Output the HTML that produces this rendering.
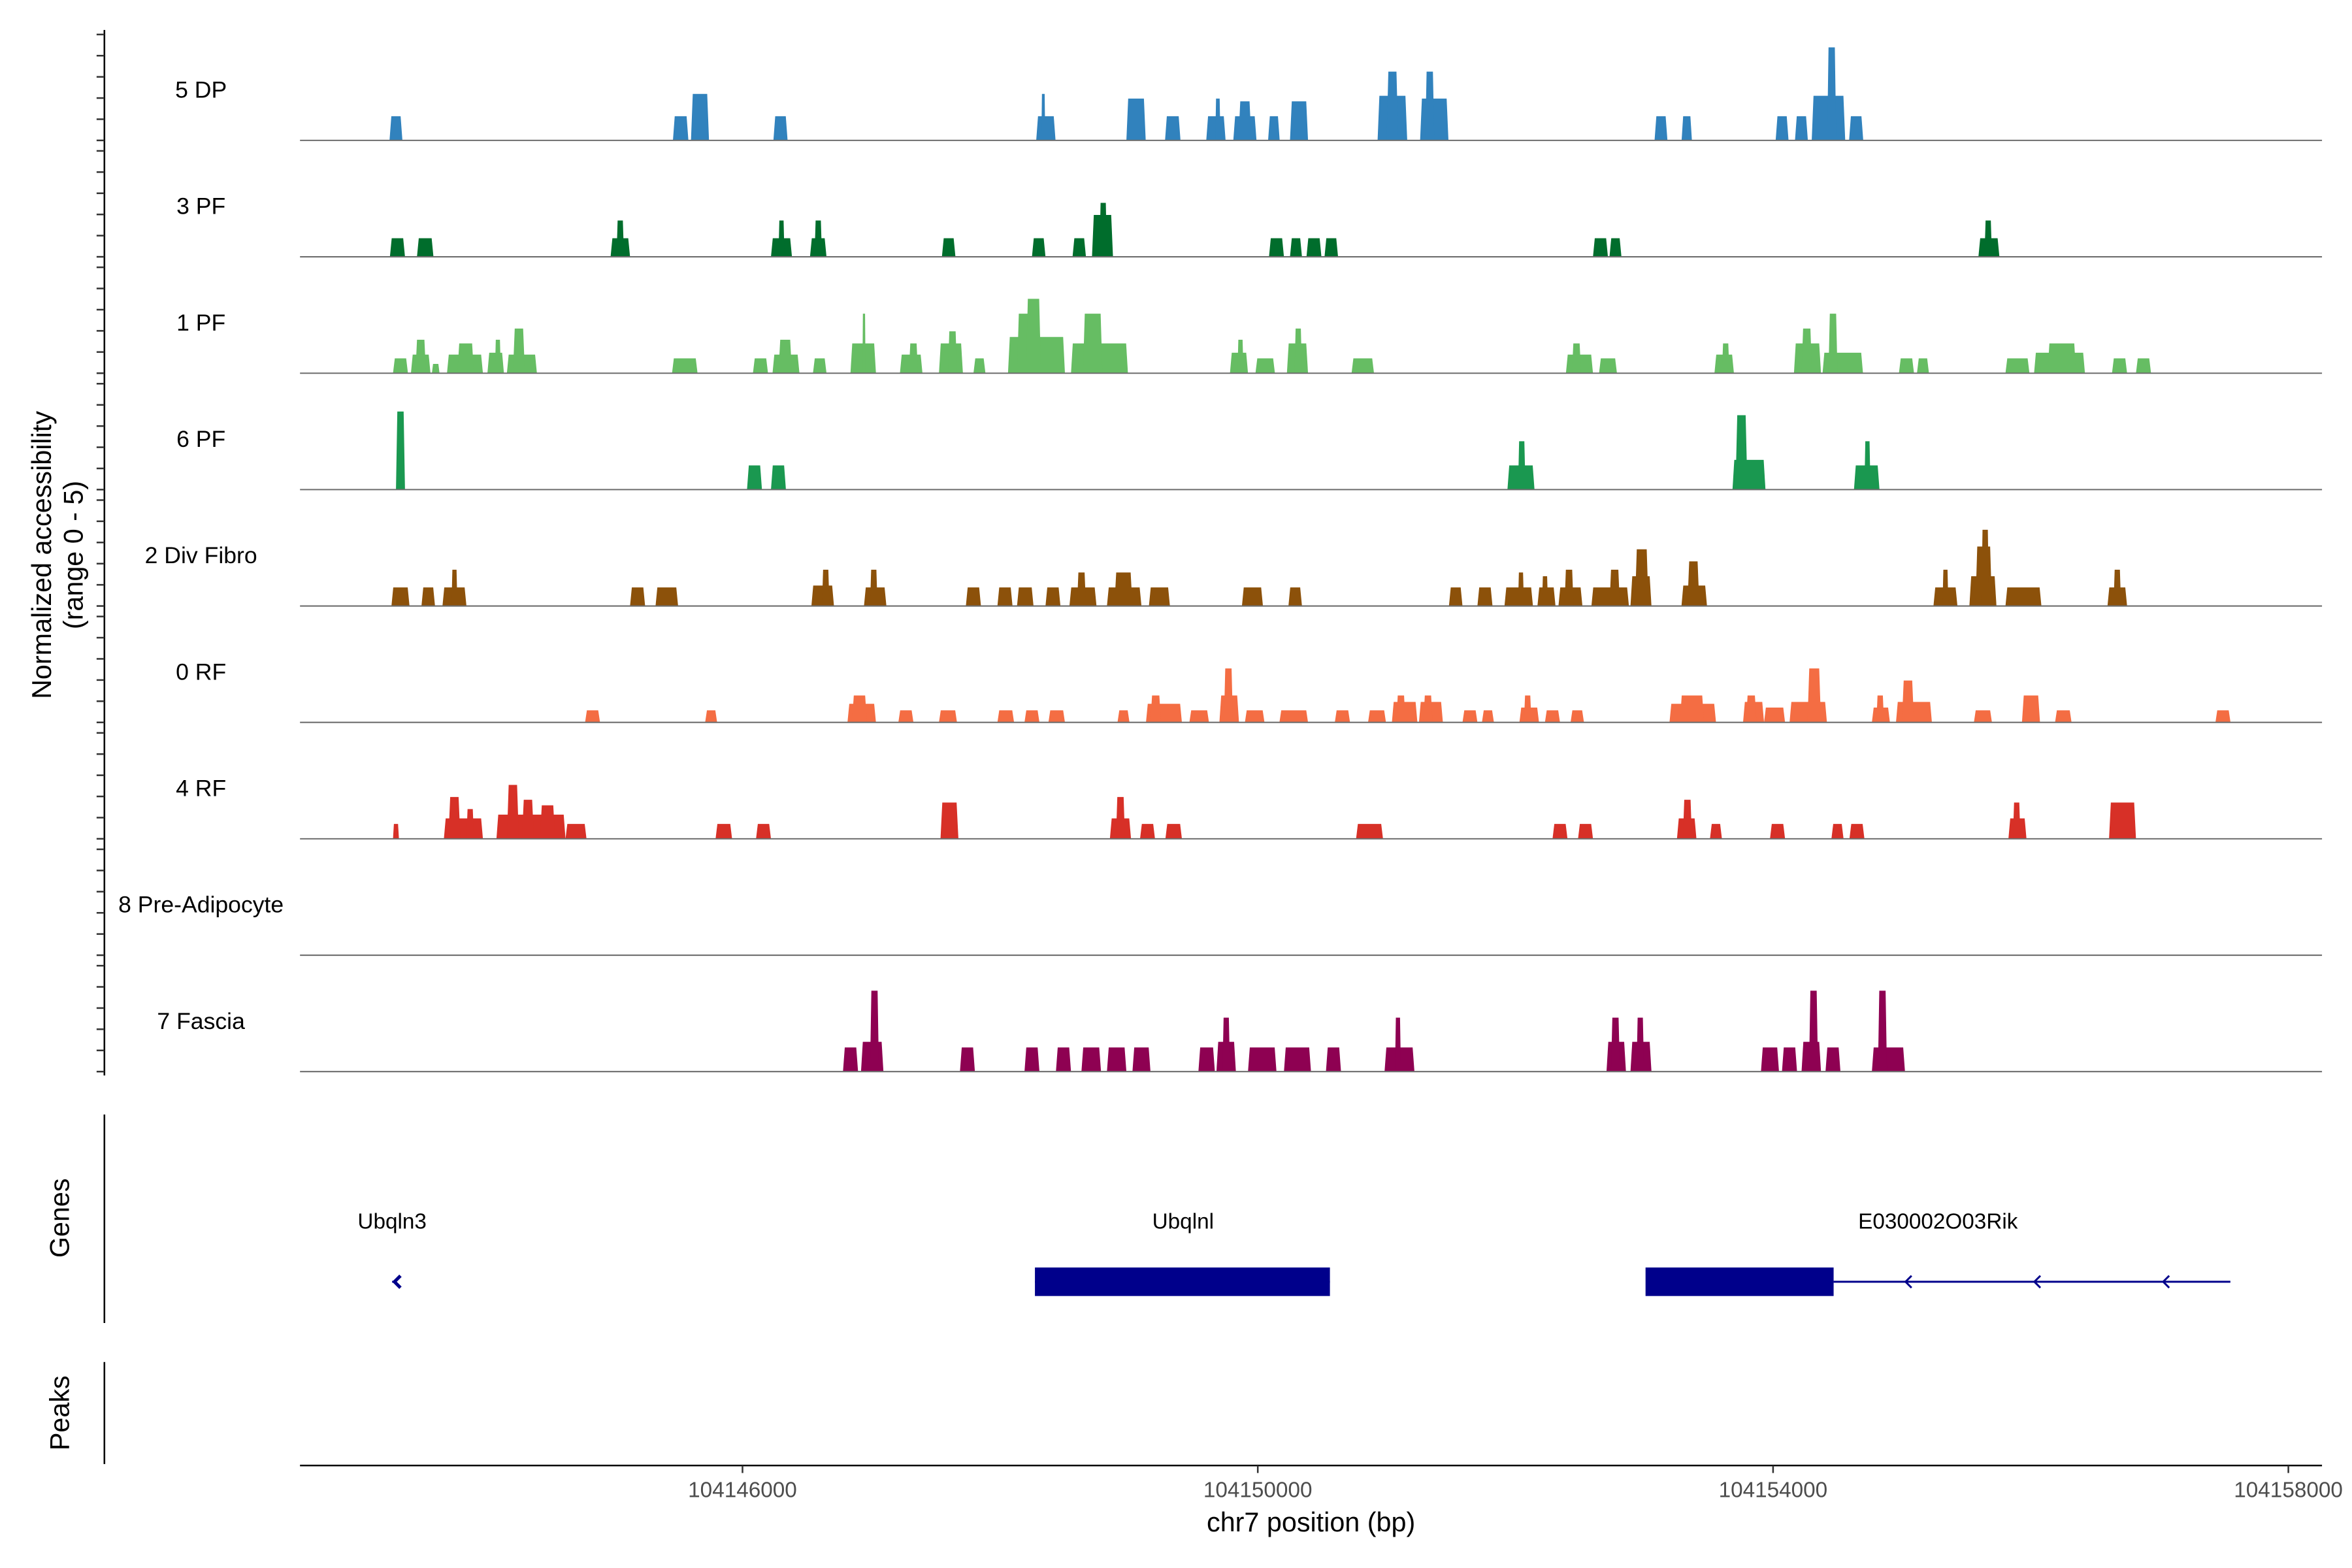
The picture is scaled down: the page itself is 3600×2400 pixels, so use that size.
<!DOCTYPE html>
<html><head><meta charset="utf-8"><style>
html,body{margin:0;padding:0;background:#fff;}
svg{display:block;font-family:"Liberation Sans",Arial,sans-serif;}
</style></head><body>
<svg id="chart" xmlns="http://www.w3.org/2000/svg" width="3600" height="2400" viewBox="0 0 1568 1045.33">
<g id="static">
  <text transform="translate(34,370) rotate(-90)" text-anchor="middle" font-size="18" fill="#000">Normalized accessibility</text>
  <text transform="translate(55,370) rotate(-90)" text-anchor="middle" font-size="18" fill="#000">(range 0 - 5)</text>
  <line x1="69.6" y1="20" x2="69.6" y2="717" stroke="#000" stroke-width="1.1"/>
  <line x1="69.6" y1="743" x2="69.6" y2="882" stroke="#000" stroke-width="1.1"/>
  <text transform="translate(46,812) rotate(-90)" text-anchor="middle" font-size="18">Genes</text>
  <line x1="69.6" y1="908" x2="69.6" y2="976" stroke="#000" stroke-width="1.1"/>
  <text transform="translate(46,942) rotate(-90)" text-anchor="middle" font-size="18">Peaks</text>
  <line x1="200" y1="977" x2="1548" y2="977" stroke="#000" stroke-width="1.1"/>
  <text x="874" y="1021" text-anchor="middle" font-size="18">chr7 position (bp)</text>
</g>
<g id="tracks"></g>
<g id="genes"></g>
<g id="xaxis"></g>
</svg>
<script>
// Genomic offset for peak coordinates (bp); peak arrays hold [startOffset, endOffset, height]
const chromOffset = 104140000;
const trackNames = ["5 DP","3 PF","1 PF","6 PF","2 Div Fibro","0 RF","4 RF","8 Pre-Adipocyte","7 Fascia"];
const trackColors = ["#3182bd","#006d2c","#66bd63","#1a9850","#8c510a","#f46d43","#d73027","#9e9ac8","#8e0152"];
const peaks5DP = [[3260,3360,1.3],[5460,5580,1.3],[5600,5740,2.5],[6240,6350,1.3],[8280,8430,1.3],[8320,8350,2.5],[8980,9130,2.25],[9280,9400,1.3],[9600,9750,1.3],[9670,9710,2.25],[9810,9990,1.3],[9850,9950,2.1],[10080,10170,1.3],[10250,10390,2.1],[10930,11160,2.4],[11000,11090,3.7],[11260,11480,2.25],[11300,11370,3.7],[13080,13180,1.3],[13290,13370,1.3],[14020,14120,1.3],[14170,14270,1.3],[14300,14560,2.4],[14420,14490,5.0],[14590,14700,1.3]];
const peaks3PF = [[3263,3380,1.0],[3473,3601,1.0],[4976,5127,1.0],[5022,5080,1.95],[6221,6384,1.0],[6279,6326,1.95],[6524,6652,1.0],[6559,6617,1.95],[7548,7653,1.0],[8247,8352,1.0],[8562,8666,1.0],[8713,8876,2.25],[8771,8829,2.9],[10087,10203,1.0],[10250,10343,1.0],[10378,10494,1.0],[10518,10623,1.0],[12602,12718,1.0],[12730,12823,1.0],[15594,15757,1.0],[15641,15699,1.95]];
const peaks1PF = [[3287,3403,0.8],[3426,3578,1.0],[3461,3543,1.8],[3589,3648,0.5],[3706,3985,1.0],[3787,3915,1.6],[4020,4148,1.1],[4078,4124,1.8],[4171,4404,1.0],[4218,4311,2.4],[5453,5651,0.8],[6081,6198,0.8],[6233,6442,1.0],[6279,6384,1.8],[6547,6652,0.8],[6838,7036,1.6],[6931,6955,3.2],[7222,7397,1.0],[7292,7362,1.6],[7525,7711,1.6],[7595,7665,2.25],[7793,7886,0.8],[8061,8503,1.95],[8131,8317,3.2],[8201,8317,4.0],[8550,8992,1.6],[8643,8794,3.2],[9784,9924,1.1],[9842,9889,1.8],[9982,10133,0.8],[10226,10390,1.6],[10285,10343,2.4],[10728,10902,0.8],[12392,12602,1.0],[12439,12509,1.6],[12649,12788,0.8],[13545,13696,1.0],[13603,13661,1.6],[14162,14372,1.6],[14221,14302,2.4],[14384,14698,1.1],[14430,14500,3.2],[14977,15094,0.8],[15117,15210,0.8],[15804,15990,0.8],[16026,16421,1.1],[16131,16352,1.6],[16631,16748,0.8],[16817,16934,0.8]];
const peaks6PF = [[3310,3380,4.2],[6035,6151,1.3],[6221,6337,1.3],[11938,12148,1.3],[12020,12078,2.6],[13685,13941,1.6],[13708,13801,4.0],[14628,14826,1.3],[14709,14756,2.6]];
const peaks2DF = [[3275,3415,1.0],[3508,3613,1.0],[3671,3857,1.0],[3741,3787,1.95],[5127,5244,1.0],[5325,5500,1.0],[6535,6710,1.1],[6617,6675,1.95],[6943,7117,1.0],[6990,7048,1.95],[7734,7851,1.0],[7979,8096,1.0],[8131,8259,1.0],[8352,8468,1.0],[8538,8748,1.0],[8597,8666,1.8],[8829,9097,1.0],[8887,9027,1.8],[9155,9318,1.0],[9877,10040,1.0],[10238,10343,1.0],[11484,11589,1.0],[11705,11822,1.0],[11915,12136,1.0],[12020,12066,1.8],[12171,12311,1.0],[12206,12253,1.6],[12334,12520,1.0],[12381,12451,1.95],[12590,12881,1.0],[12730,12811,1.95],[12893,13056,1.6],[12928,13033,3.05],[13289,13487,1.1],[13335,13428,2.4],[15245,15431,1.0],[15315,15361,1.95],[15524,15734,1.6],[15571,15699,3.2],[15617,15676,4.1],[15804,16083,1.0],[16596,16748,1.0],[16643,16701,1.95]];
const peaks0RF = [[4778,4894,0.65],[5710,5803,0.65],[6815,7036,1.0],[6850,6966,1.45],[7210,7327,0.65],[7525,7665,0.65],[7979,8108,0.65],[8189,8305,0.65],[8375,8503,0.65],[8911,9004,0.65],[9132,9411,1.0],[9167,9248,1.45],[9469,9621,0.65],[9702,9854,1.45],[9737,9807,2.9],[9900,10052,0.65],[10168,10390,0.65],[10598,10716,0.65],[10856,10995,0.65],[11041,11239,1.1],[11076,11146,1.45],[11251,11437,1.1],[11286,11356,1.45],[11589,11705,0.65],[11740,11833,0.65],[12031,12183,0.8],[12066,12124,1.45],[12229,12346,0.65],[12428,12532,0.65],[13196,13557,1.0],[13277,13464,1.45],[13767,13930,1.1],[13790,13871,1.45],[13930,14093,0.8],[14128,14418,1.1],[14267,14372,2.9],[14767,14907,0.8],[14802,14861,1.45],[14954,15233,1.1],[15000,15094,2.25],[15559,15699,0.65],[15932,16072,1.45],[16189,16317,0.65],[17434,17551,0.65]];
const peaks4RF = [[3287,3333,0.8],[3682,3985,1.1],[3717,3810,2.25],[3857,3915,1.6],[4090,4626,1.3],[4171,4264,2.9],[4288,4381,2.1],[4428,4545,1.8],[4626,4789,0.8],[5791,5919,0.8],[6105,6221,0.8],[7537,7676,1.95],[8852,9016,1.1],[8899,8969,2.25],[9086,9202,0.8],[9283,9411,0.8],[10763,10972,0.8],[12288,12404,0.8],[12486,12602,0.8],[13254,13405,1.1],[13300,13370,2.1],[13510,13603,0.8],[13976,14093,0.8],[14453,14547,0.8],[14593,14709,0.8],[15827,15967,1.1],[15862,15920,1.95],[16608,16817,1.95]];
const peaks8PA = [];
const peaks7FA = [[6780,6897,1.3],[6920,7094,1.6],[6990,7059,4.35],[7688,7804,1.3],[8189,8305,1.3],[8433,8550,1.3],[8631,8783,1.3],[8829,8980,1.3],[9027,9167,1.3],[9539,9667,1.3],[9679,9830,1.6],[9726,9784,2.9],[9924,10145,1.3],[10203,10413,1.3],[10529,10646,1.3],[10984,11216,1.3],[11065,11111,2.9],[12707,12858,1.6],[12742,12811,2.9],[12893,13056,1.6],[12940,12998,2.9],[13906,14046,1.3],[14069,14186,1.3],[14221,14372,1.6],[14279,14349,4.35],[14407,14523,1.3],[14767,15024,1.3],[14814,14884,4.35]];
const trackPeaks = [peaks5DP,peaks3PF,peaks1PF,peaks6PF,peaks2DF,peaks0RF,peaks4RF,peaks8PA,peaks7FA];
const xTickValues = [104146000,104150000,104154000,104158000];
const xTickLabels = ["104146000","104150000","104154000","104158000"];
const geneNames = ["Ubqln3","Ubqlnl","E030002O03Rik"];
const geneExons = [[],[[104148270,104150560]],[[104153010,104154470]]];
const geneLines = [[104143280,104143300],[104148270,104150560],[104154470,104157550]];
const geneArrows = [[104143310],[],[104155040,104156040,104157040]];
const geneLabelPos = [104143280,104149420,104155280];

const NS="http://www.w3.org/2000/svg";
function xScale(bp){ return 495 + (bp-104146000)/11.644; }
const pxPerUnit = 12.4;
function yScale(v, base){ return base - v*pxPerUnit; }
const firstBase = 93.6, stride = 77.6;
function mk(tag, attrs, parent){ const e=document.createElementNS(NS,tag); for(const k in attrs) e.setAttribute(k,attrs[k]); parent.appendChild(e); return e; }

const tg=document.getElementById('tracks');
for(let t=0;t<trackNames.length;t++){
  const base=firstBase+t*stride;
  for(let k=0;k<=5;k++){
    const tick=mk('line',{x1:64.4,x2:69.6,y1:base-k*14.12,y2:base-k*14.12,stroke:'#333','stroke-width':1.1},tg);
    
    
  }
}
for(let t=0;t<trackNames.length;t++){
  const base=firstBase+t*stride;
  const g=mk('g',{},tg);
  
  
  const lab=mk('text',{x:134,y:base-28.5,'text-anchor':'middle','font-size':15.5,fill:'#000'},g);
  lab.textContent=trackNames[t];
  
  
  trackPeaks[t].forEach(p=>{
    const x0=xScale(chromOffset+p[0]), x1=xScale(chromOffset+p[1]);
    const yt=yScale(p[2],base); const w=x1-x0; const s=Math.min(w*0.15,1.2);
    const poly=mk('polygon',{points:`${x0},${base} ${x0+s},${yt} ${x1-s},${yt} ${x1},${base}`,fill:trackColors[t]},g);
    
    
  });
  const bl=mk('line',{x1:200,x2:1548,y1:base,y2:base,stroke:'#6e6e6e','stroke-width':0.9},g);
  
  
}

const gg=document.getElementById('genes');
const gc='#00008b';
for(let i=0;i<geneNames.length;i++){
  const lab=mk('text',{x:xScale(geneLabelPos[i]),y:819,'text-anchor':'middle','font-size':14.5,fill:'#000'},gg);
  lab.textContent=geneNames[i];
  
  
  const ln=mk('line',{x1:xScale(geneLines[i][0]),x2:xScale(geneLines[i][1]),y1:854.5,y2:854.5,stroke:gc,'stroke-width':1.3},gg);
  
  
  geneExons[i].forEach(e=>{
    const r=mk('rect',{x:xScale(e[0]),y:845,width:xScale(e[1])-xScale(e[0]),height:19,fill:gc},gg);
    
    
  });
  geneArrows[i].forEach(a=>{
    const x=xScale(a);
    const ar=mk('polyline',{points:`${x+3},${850.5} ${x-1},${854.5} ${x+3},${858.5}`,fill:'none',stroke:gc,'stroke-width':i===0?2.2:1.3},gg);
    
    
  });
}

const xg=document.getElementById('xaxis');
xTickValues.forEach((v,i)=>{
  const x=xScale(v);
  const t=mk('line',{x1:x,x2:x,y1:977,y2:982,stroke:'#333','stroke-width':1.1},xg);
  
  
  const l=mk('text',{x:x,y:998,'text-anchor':'middle','font-size':14.5,fill:'#4d4d4d'},xg);
  l.textContent=xTickLabels[i];
  
  
});
</script>
</body></html>
